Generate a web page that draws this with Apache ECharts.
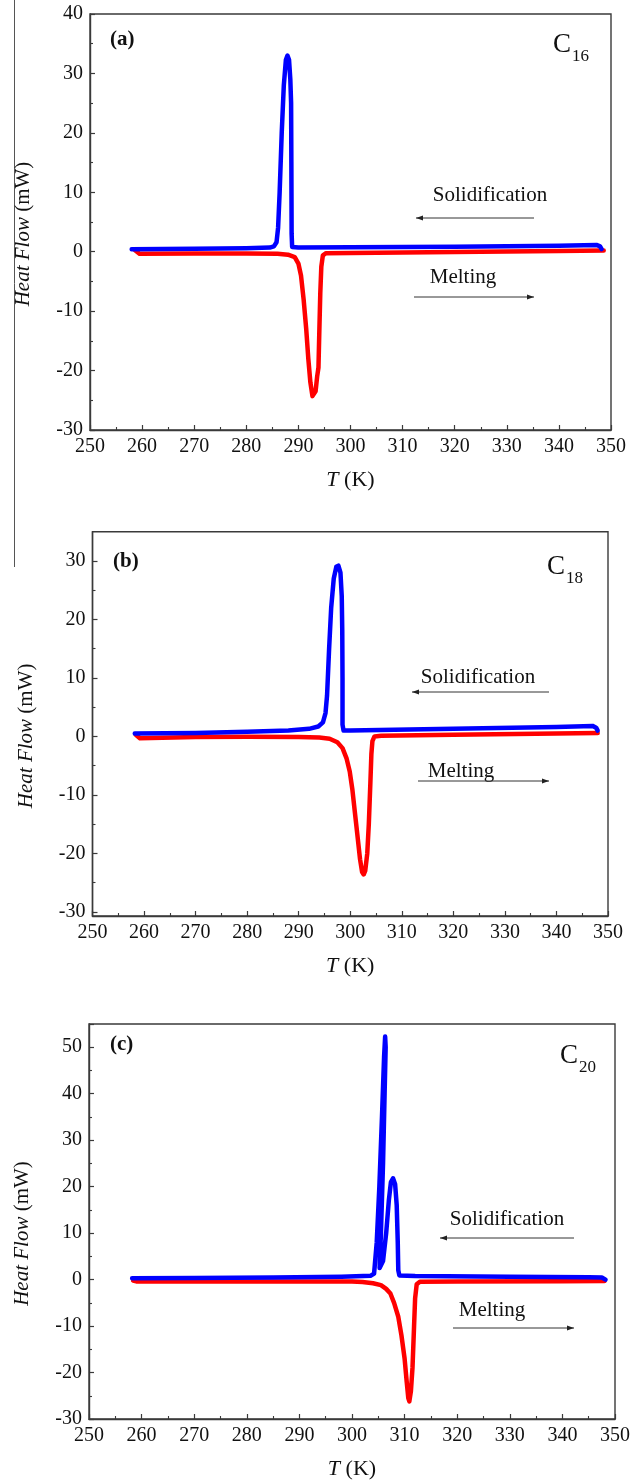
<!DOCTYPE html>
<html>
<head>
<meta charset="utf-8">
<script src="https://cdn.jsdelivr.net/npm/echarts@6/dist/echarts.min.js"></script>
<style>
  html, body { margin: 0; padding: 0; background: #ffffff; }
  #chart { width: 633px; height: 1481px; }
</style>
</head>
<body>
<div id="chart"></div>
<script>
// DSC heat-flow traces of n-hexadecane (C16), n-octadecane (C18) and n-eicosane (C20).
// Blue: cooling scan (solidification), red: heating scan (melting). T in K, heat flow in mW.

const tempTicks = [250, 260, 270, 280, 290, 300, 310, 320, 330, 340, 350];
const flowTicksB = [-30, -20, -10, 0, 10, 20, 30];
const flowMinorB = [-25, -15, -5, 5, 15, 25];

// ---- (a) C16 ----
const c16CoolT = [258.0, 270, 280, 284.5, 285.3, 285.8, 286.1, 286.4, 286.8, 287.2, 287.6, 287.9, 288.2, 288.45, 288.6, 288.65, 288.7, 288.8, 290, 300, 320, 340, 347.2, 347.9, 348.2];
const c16CoolQ = [0.4, 0.5, 0.6, 0.7, 0.9, 1.6, 4, 10, 20, 28, 32.3, 33.0, 32.3, 29, 25, 15, 3, 0.8, 0.7, 0.75, 0.85, 1.0, 1.15, 0.9, 0.45];
const c16HeatT = [258.6, 259.5, 270, 280, 286, 288, 289.3, 290.0, 290.5, 291.0, 291.5, 291.9, 292.3, 292.7, 292.95, 293.3, 293.6, 293.85, 294.0, 294.2, 294.4, 294.7, 295.3, 300, 320, 340, 348.6];
const c16HeatQ = [0.3, -0.35, -0.3, -0.3, -0.35, -0.5, -0.9, -2, -4, -8, -13, -18, -22, -24.3, -24.6, -23.5, -21, -19.5, -14, -7, -2.5, -0.6, -0.25, -0.2, -0.05, 0.1, 0.2];

// ---- (b) C18 ----
const c18CoolT = [258.2, 270, 280, 288, 292, 293.8, 294.7, 295.2, 295.5, 295.9, 296.3, 296.8, 297.3, 297.7, 298.1, 298.35, 298.45, 298.5, 298.5, 298.7, 300, 320, 340, 347, 347.7, 348.0];
const c18CoolQ = [0.5, 0.6, 0.8, 1.0, 1.3, 1.7, 2.4, 4, 7, 15, 22, 27, 29, 29.2, 28, 24, 18, 10, 2, 1.0, 1.0, 1.3, 1.6, 1.8, 1.5, 1.0];
const c18HeatT = [258.4, 259.2, 270, 280, 290, 294, 296, 297.5, 298.5, 299.3, 299.9, 300.4, 300.9, 301.4, 301.9, 302.3, 302.6, 302.9, 303.3, 303.6, 303.9, 304.1, 304.3, 304.7, 306, 320, 340, 348];
const c18HeatQ = [0.3, -0.3, -0.1, -0.05, -0.1, -0.2, -0.4, -1, -2, -3.8, -6, -9, -13, -17, -21, -23.2, -23.6, -23, -20, -15, -8, -3, -0.8, 0, 0.1, 0.3, 0.5, 0.6];

// ---- (c) C20 ----
const c20CoolT = [258.2, 270, 285, 298, 303.5, 304.2, 304.7, 305.2, 305.7, 306.1, 306.3, 306.4, 306.2, 305.9, 305.5, 305.25, 305.4, 305.9, 306.5, 307.0, 307.4, 307.8, 308.2, 308.5, 308.7, 308.8, 309.0, 312, 330, 345, 347.5, 348.2];
const c20CoolQ = [0.3, 0.35, 0.45, 0.6, 0.8, 1.3, 8, 20, 35, 48, 52.3, 50, 40, 25, 10, 2.5, 2.1, 4, 10, 17, 21, 21.8, 20.5, 16, 8, 2, 0.9, 0.75, 0.6, 0.5, 0.45, 0.0];
const c20HeatT = [258.4, 259.0, 280, 300, 302, 304, 305.5, 306.5, 307.3, 308.0, 308.8, 309.4, 310.0, 310.4, 310.7, 310.9, 311.2, 311.5, 311.8, 312.0, 312.3, 312.9, 320, 340, 348];
const c20HeatQ = [-0.2, -0.4, -0.4, -0.4, -0.5, -0.8, -1.2, -2, -3, -5, -8, -12, -17, -22, -25.5, -26.2, -24, -19, -10, -4, -1, -0.45, -0.4, -0.35, -0.3];

const FONT = '"Liberation Serif", "Times New Roman", serif';
const INK = '#111111';
const FRAME = '#3a3a3a';
const BLUE = '#0000ff';
const RED = '#ff0000';

const zip = (t, q) => t.map((v, i) => [v, q[i]]);

// plot rectangles (px)
const grids = [
  { left: 90, top: 14, width: 521, height: 416 },
  { left: 92.5, top: 531.7, width: 515.5, height: 384.3 },
  { left: 89, top: 1024, width: 527, height: 395.3 }
];

function xAxisFor(gi) {
  return {
    type: 'value', gridIndex: gi, min: tempTicks[0], max: tempTicks[tempTicks.length - 1], interval: 10,
    axisLine: { show: true, onZero: false, lineStyle: { color: FRAME, width: 1.4 } },
    axisTick: { show: true, inside: true, length: 5, lineStyle: { color: FRAME, width: 1.2 } },
    minorTick: { show: true, splitNumber: 2, length: 3, lineStyle: { color: FRAME, width: 1.1 } },
    splitLine: { show: false },
    axisLabel: { color: INK, fontFamily: FONT, fontSize: 20, margin: 7, showMinLabel: true, showMaxLabel: true },
    name: '{i|T} (K)', nameLocation: 'middle', nameGap: 39,
    nameTextStyle: { color: INK, fontFamily: FONT, fontSize: 22, rich: { i: { fontStyle: 'italic', fontFamily: FONT, fontSize: 22, color: INK } } }
  };
}

const yName = {
  name: '{i|Heat Flow} (mW)', nameLocation: 'middle', nameGap: 56,
  nameTextStyle: { color: INK, fontFamily: FONT, fontSize: 21, padding: [0, 24, 0, 0],
    rich: { i: { fontStyle: 'italic', fontFamily: FONT, fontSize: 21, color: INK } } }
};

function yAxisFor(gi, min, max, showTop) {
  return Object.assign({
    type: 'value', gridIndex: gi, min: min, max: max, interval: 10,
    axisLine: { show: true, onZero: false, lineStyle: { color: FRAME, width: 1.4 } },
    axisTick: { show: true, inside: true, length: 5, lineStyle: { color: FRAME, width: 1.2 } },
    minorTick: { show: true, splitNumber: 2, length: 3, lineStyle: { color: FRAME, width: 1.1 } },
    splitLine: { show: false },
    axisLabel: { color: INK, fontFamily: FONT, fontSize: 20, margin: 7, showMaxLabel: showTop }
  }, yName);
}

const yAxes = [
  yAxisFor(0, -30, 40, true),
  // (b): range does not start on a labelled value, so ticks are listed explicitly
  Object.assign({
    type: 'value', gridIndex: 1, min: -30.7, max: 35,
    axisLine: { show: true, onZero: false, lineStyle: { color: FRAME, width: 1.4 } },
    axisTick: { show: true, inside: true, length: 5, customValues: flowTicksB, lineStyle: { color: FRAME, width: 1.2 } },
    splitLine: { show: false },
    axisLabel: { color: INK, fontFamily: FONT, fontSize: 20, margin: 7, customValues: flowTicksB }
  }, yName),
  {
    type: 'value', gridIndex: 1, min: -30.7, max: 35, position: 'left',
    axisLine: { show: false },
    axisTick: { show: true, inside: true, length: 3, customValues: flowMinorB, lineStyle: { color: FRAME, width: 1.1 } },
    axisLabel: { show: false }, splitLine: { show: false }
  },
  yAxisFor(2, -30, 55, false)
];

function trace(xi, yi, t, q, color) {
  return {
    type: 'line', xAxisIndex: xi, yAxisIndex: yi, data: zip(t, q),
    showSymbol: false, symbol: 'none', smooth: false, clip: true,
    lineStyle: { color: color, width: 4.5, cap: 'round', join: 'round' },
    emphasis: { disabled: true }
  };
}

// annotation helpers (pixel positions inside each panel)
function txt(x, y, s, size, extra) {
  return { type: 'text', x: x, y: y, silent: true, style: Object.assign({
    text: s, fill: INK, font: size + 'px ' + FONT, verticalAlign: 'middle', align: 'left' }, extra || {}) };
}
function arrow(x1, x2, y, headAtLeft) {
  const hx = headAtLeft ? x1 : x2;
  const d = headAtLeft ? 1 : -1;
  return [
    { type: 'line', silent: true, shape: { x1: x1, y1: y, x2: x2, y2: y }, style: { stroke: '#333', lineWidth: 1 } },
    { type: 'polygon', silent: true, shape: { points: [[hx, y], [hx + d * 7, y - 2.6], [hx + d * 7, y + 2.6]] }, style: { fill: '#222' } }
  ];
}
function panelNotes(p) {
  return [
    txt(p.tagX, p.tagY, p.tag, 20, { font: 'bold 21px ' + FONT }),
    txt(p.cX, p.cY, 'C', 27),
    txt(p.cX + 19, p.cY + 12, p.sub, 17),
    txt(p.solX, p.solY, 'Solidification', 21, { align: 'center' }),
    txt(p.melX, p.melY, 'Melting', 21, { align: 'center' })
  ].concat(arrow(p.sa[0], p.sa[1], p.sa[2], true), arrow(p.ma[0], p.ma[1], p.ma[2], false));
}

const notes = [
  { tag: '(a)', tagX: 110, tagY: 40, cX: 553, cY: 45, sub: '16', solX: 490, solY: 195, melX: 463, melY: 277, sa: [416, 534, 218], ma: [414, 534, 297] },
  { tag: '(b)', tagX: 113, tagY: 562, cX: 547, cY: 567, sub: '18', solX: 478, solY: 677, melX: 461, melY: 771, sa: [412, 549, 692], ma: [418, 549, 781] },
  { tag: '(c)', tagX: 110, tagY: 1045, cX: 560, cY: 1056, sub: '20', solX: 507, solY: 1219, melX: 492, melY: 1310, sa: [440, 574, 1238], ma: [453, 574, 1328] }
];

let graphics = [
  { type: 'line', silent: true, shape: { x1: 14.5, y1: 0, x2: 14.5, y2: 567 }, style: { stroke: '#555', lineWidth: 1 } }
];
notes.forEach(n => { graphics = graphics.concat(panelNotes(n)); });

const chart = echarts.init(document.getElementById('chart'), null, { renderer: 'canvas' });
chart.setOption({
  backgroundColor: '#ffffff',
  animation: false,
  textStyle: { fontFamily: FONT },
  grid: grids.map(g => Object.assign({ show: true, borderColor: FRAME, borderWidth: 1.4, backgroundColor: 'transparent', containLabel: false }, g)),
  xAxis: [xAxisFor(0), xAxisFor(1), xAxisFor(2)],
  yAxis: yAxes,
  series: [
    trace(0, 0, c16HeatT, c16HeatQ, RED),
    trace(0, 0, c16CoolT, c16CoolQ, BLUE),
    trace(1, 1, c18HeatT, c18HeatQ, RED),
    trace(1, 1, c18CoolT, c18CoolQ, BLUE),
    trace(2, 3, c20HeatT, c20HeatQ, RED),
    trace(2, 3, c20CoolT, c20CoolQ, BLUE)
  ],
  graphic: graphics
});
</script>
</body>
</html>
